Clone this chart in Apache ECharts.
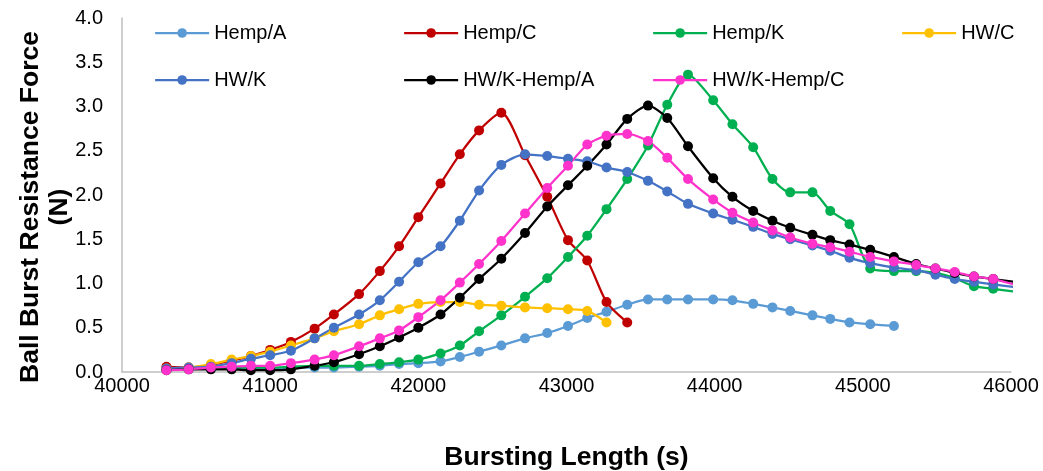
<!DOCTYPE html>
<html>
<head>
<meta charset="utf-8">
<script src="https://cdn.jsdelivr.net/npm/echarts@6/dist/echarts.min.js"></script>
<style>
  html, body { margin: 0; padding: 0; background: #fff; }
  #chart { width: 1043px; height: 471px; }
</style>
</head>
<body>
<div id="chart"></div>
<script>
// Bursting length (s) sample times shared by the series (last one lies just past the axis end)
const times = [40300,40450,40600,40740,40870,41000,41140,41300,41430,41600,41740,41870,42000,42150,42280,42410,42560,42720,42870,43010,43140,43270,43410,43550,43680,43820,43990,44120,44260,44390,44510,44660,44780,44910,45050,45210,45360,45490,45620,45750,45880,46020];

const seriesNames = ['Hemp/A','Hemp/C','Hemp/K','HW/C','HW/K','HW/K-Hemp/A','HW/K-Hemp/C'];

// Ball burst resistance force (N)
const hempA = [0.03,0.04,0.04,0.04,0.04,0.04,0.05,0.05,0.05,0.06,0.07,0.09,0.10,0.12,0.17,0.23,0.30,0.38,0.44,0.52,0.61,0.68,0.76,0.82,0.82,0.82,0.82,0.81,0.77,0.73,0.69,0.64,0.60,0.56,0.54,0.52];
const hempC = [0.06,0.05,0.08,0.13,0.18,0.25,0.34,0.49,0.65,0.88,1.14,1.42,1.75,2.13,2.46,2.73,2.93,2.45,1.98,1.49,1.26,0.79,0.56];
const hempK = [0.03,0.04,0.04,0.05,0.05,0.05,0.06,0.07,0.07,0.07,0.09,0.11,0.14,0.21,0.30,0.46,0.64,0.85,1.06,1.30,1.54,1.84,2.18,2.56,3.02,3.36,3.07,2.80,2.54,2.18,2.03,2.03,1.82,1.67,1.17,1.14,1.14,1.12,1.06,0.97,0.94,0.91];
const hwC = [0.04,0.05,0.09,0.14,0.18,0.23,0.30,0.38,0.46,0.54,0.64,0.71,0.77,0.79,0.79,0.76,0.75,0.73,0.72,0.71,0.69,0.56];
const hwK = [0.04,0.05,0.06,0.10,0.15,0.19,0.24,0.38,0.50,0.65,0.81,1.02,1.24,1.42,1.71,2.05,2.34,2.46,2.44,2.41,2.38,2.31,2.26,2.16,2.04,1.90,1.79,1.72,1.64,1.56,1.50,1.43,1.37,1.29,1.23,1.18,1.15,1.10,1.05,1.02,0.99,0.96];
const hwkHempA = [0.02,0.03,0.03,0.03,0.02,0.02,0.03,0.07,0.11,0.20,0.29,0.39,0.50,0.65,0.84,1.05,1.28,1.57,1.87,2.11,2.33,2.57,2.86,3.01,2.87,2.55,2.19,1.98,1.82,1.71,1.63,1.55,1.49,1.44,1.38,1.30,1.22,1.17,1.12,1.08,1.05,1.02];
const hwkHempC = [0.02,0.03,0.05,0.06,0.07,0.07,0.10,0.14,0.19,0.29,0.38,0.47,0.62,0.81,1.01,1.22,1.48,1.79,2.08,2.33,2.57,2.67,2.69,2.61,2.42,2.18,1.95,1.80,1.69,1.60,1.52,1.45,1.41,1.36,1.30,1.25,1.21,1.17,1.13,1.08,1.05,0.99];

const seriesValues = [hempA, hempC, hempK, hwC, hwK, hwkHempA, hwkHempC];
const seriesColors = ['#5B9BD5','#C00000','#00B050','#FFC000','#4472C4','#000000','#FF33CC'];

const FONT = '"Liberation Sans", Arial, sans-serif';

const chart = echarts.init(document.getElementById('chart'), null, { renderer: 'canvas' });

const series = seriesNames.map((name, i) => ({
  name: name,
  type: 'line',
  data: seriesValues[i].map((v, k) => [times[k], v]),
  smooth: 0.25,
  clip: true,
  symbol: 'circle',
  symbolSize: 10,
  showSymbol: true,
  lineStyle: { width: 2.25, color: seriesColors[i] },
  itemStyle: { color: seriesColors[i] },
  emphasis: { disabled: true },
  animation: false
}));

// legend items laid out in a 4-column grid
const legendPos = [
  [154, 22], [403, 22], [652, 22], [901, 22],
  [154, 69], [403, 69], [652, 69]
];
const legends = seriesNames.map((name, i) => ({
  data: [name],
  left: legendPos[i][0],
  top: legendPos[i][1],
  padding: 0,
  itemWidth: 54,
  itemHeight: 12,
  selectedMode: false,
  lineStyle: { width: 2.25 },
  textStyle: { fontFamily: FONT, fontSize: 20, color: '#000', lineHeight: 22 }
}));

chart.setOption({
  backgroundColor: '#ffffff',
  animation: false,
  legend: legends,
  grid: { left: 122, right: 32, top: 18, bottom: 99, containLabel: false, outerBoundsMode: 'none' },
  xAxis: {
    type: 'value',
    min: 40000,
    max: 46000,
    interval: 1000,
    name: 'Bursting Length (s)',
    nameLocation: 'middle',
    nameGap: 72,
    nameMoveOverlap: false,
    nameTextStyle: { fontFamily: FONT, fontSize: 26.5, fontWeight: 'bold', color: '#000' },
    axisLine: { show: true, lineStyle: { color: '#BFBFBF', width: 1.5 } },
    axisTick: { show: false },
    splitLine: { show: false },
    axisLabel: {
      fontFamily: FONT, fontSize: 20, color: '#000', margin: 4,
      formatter: v => String(v)
    }
  },
  yAxis: {
    type: 'value',
    min: 0,
    max: 4,
    interval: 0.5,
    name: 'Ball Burst Resistance Force\n(N)',
    nameLocation: 'middle',
    nameGap: 48,
    nameMoveOverlap: false,
    nameTextStyle: { fontFamily: FONT, fontSize: 26.5, fontWeight: 'bold', color: '#000', lineHeight: 29, padding: [0, 24, 0, 0] },
    axisLine: { show: true, lineStyle: { color: '#BFBFBF', width: 1.5 } },
    axisTick: { show: false },
    splitLine: { show: false },
    axisLabel: {
      fontFamily: FONT, fontSize: 20, color: '#000', margin: 19,
      formatter: v => v.toFixed(1)
    }
  },
  series: series
});
</script>
</body>
</html>
